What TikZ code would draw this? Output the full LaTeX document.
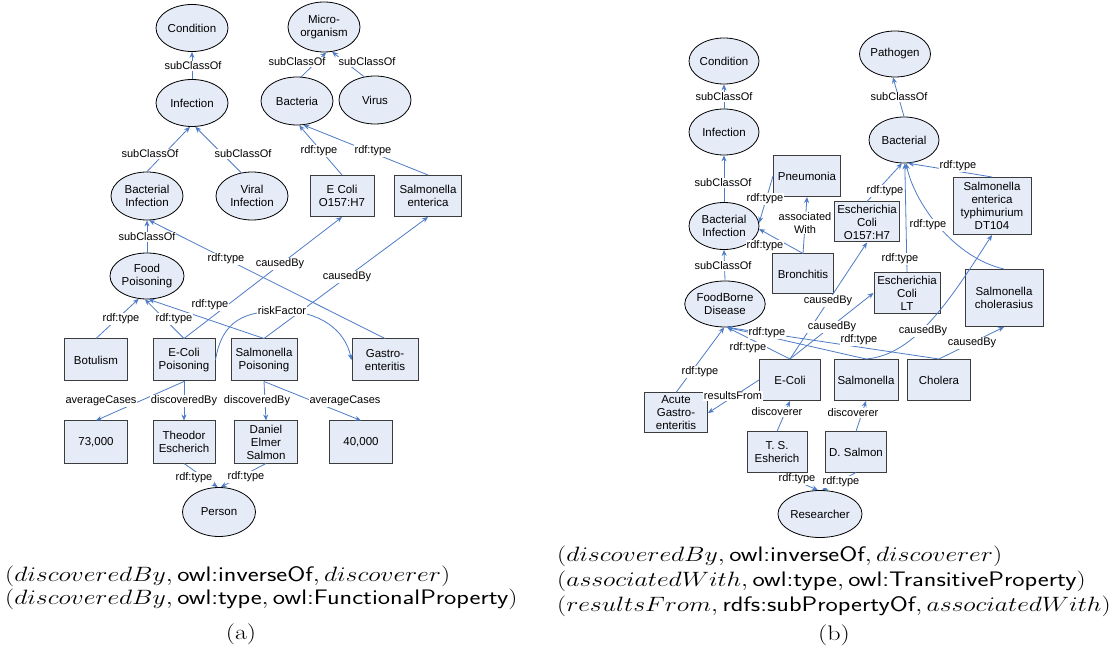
\documentclass[tikz,border=0pt]{standalone}
\usepackage{fontspec}
\usetikzlibrary{shapes.geometric,arrows.meta}
\newfontfamily\diag{Liberation Sans}
\definecolor{nodefill}{RGB}{229,235,247}
\definecolor{boxgray}{RGB}{60,60,60}
\definecolor{edgeblue}{RGB}{78,124,198}
\newcommand{\capfont}{\fontsize{21}{23}\selectfont}
\newcommand{\capline}[1]{\scalebox{1.24}[1]{#1}}
\begin{document}
\begin{tikzpicture}[x=1pt,y=-1pt,
  cls/.style={ellipse, draw=black, line width=0.8pt, fill=nodefill, minimum width=72pt, minimum height=47pt, inner sep=0pt, align=center, font={\diag\fontsize{11.5}{13}\selectfont}},
  inst/.style={rectangle, draw=boxgray, line width=1pt, fill=nodefill, minimum width=63pt, minimum height=41pt, inner sep=1pt, align=center, font={\diag\fontsize{11.5}{13}\selectfont}},
  rel/.style={draw=edgeblue, line width=0.8pt, -{Stealth[length=6pt,width=5pt]}},
  lbl/.style={fill=white, inner sep=0.6pt, align=center, font={\diag\fontsize{11}{13}\selectfont}},
  capt/.style={anchor=base west, inner sep=0pt, font=\capfont}
]
\useasboundingbox[fill=white] (0,0) rectangle (1120,652);

% ---------- (a) nodes
\node[cls] (condA) at (192,28) {Condition};
\node[cls, minimum height=50pt] (micro) at (324,27) {Micro-\\organism};
\node[cls] (infA) at (192,103) {Infection};
\node[cls, minimum height=48pt] (bacteria) at (297,101) {Bacteria};
\node[cls, minimum height=48pt] (virus) at (375,100) {Virus};
\node[cls, minimum height=48pt] (bacInfA) at (147,196) {Bacterial\\Infection};
\node[cls, minimum height=48pt] (viralInf) at (252,196) {Viral\\Infection};
\node[inst, minimum width=64pt] (ecoliO) at (342,196) {E Coli\\O157:H7};
\node[inst, minimum width=67pt] (salEnt) at (428,196) {Salmonella\\enterica};
\node[cls, minimum width=74pt, minimum height=46pt] (foodP) at (147,276) {Food\\Poisoning};
\node[inst, minimum height=42pt] (botulism) at (96,360) {Botulism};
\node[inst, minimum width=62pt, minimum height=42pt] (ecoliP) at (184,360) {E-Coli\\Poisoning};
\node[inst, minimum width=66pt, minimum height=42pt] (salP) at (264,360) {Salmonella\\Poisoning};
\node[inst, minimum width=66pt, minimum height=42pt] (gastro) at (385,360) {Gastro-\\enteritis};
\node[inst, minimum height=42pt] (n73) at (96,442) {73,000};
\node[inst, minimum width=62pt, minimum height=42pt] (theodor) at (184,442) {Theodor\\Escherich};
\node[inst, minimum height=42pt] (daniel) at (266,442) {Daniel\\Elmer\\Salmon};
\node[inst, minimum height=42pt] (n40) at (361,442) {40,000};
\node[cls, minimum width=73pt, minimum height=49pt] (person) at (219,512) {Person};

% ---------- (a) connectors
\draw[rel] (infA.north) -- (condA.south);
\draw[rel] (bacteria.80) -- (micro.-85);
\draw[rel] (virus.115) -- (micro.-72);
\draw[rel] (bacInfA.north) -- (infA.-95);
\draw[rel] (viralInf.115) -- (infA.-82);
\draw[rel] (ecoliO.north) -- (bacteria.-85);
\draw[rel] (salEnt.north) -- (bacteria.-75);
\draw[rel] (foodP.north) -- (bacInfA.south);
\draw[rel] (gastro.north) -- (bacInfA.-85);
\draw[rel] (ecoliP.north) -- (ecoliO.south);
\draw[rel] (salP.north) -- (salEnt.south);
\draw[rel] (botulism.north) -- (foodP.-110);
\draw[rel] (ecoliP.north) -- (foodP.-95);
\draw[rel] (salP.north) -- (foodP.-86);
\draw[rel] (ecoliP.east) .. controls (222,320) and (245,311) .. (282,311) .. controls (320,311) and (345,330) .. (gastro.west);
\draw[rel] (ecoliP.south) -- (n73.north);
\draw[rel] (ecoliP.south) -- (theodor.north);
\draw[rel] (salP.south) -- (daniel.north);
\draw[rel] (salP.south) -- (n40.north);
\draw[rel] (theodor.south) -- (person.93);
\draw[rel] (daniel.south) -- (person.86);

% ---------- (a) labels
\node[lbl] (la1) at (193,66) {subClassOf};
\node[lbl] (la2) at (297,62) {subClassOf};
\node[lbl] (la3) at (367,62) {subClassOf};
\node[lbl] (la4) at (150,154) {subClassOf};
\node[lbl] (la5) at (243,154) {subClassOf};
\node[lbl] (la6) at (319,151) {rdf:type};
\node[lbl] (la7) at (373,151) {rdf:type};
\node[lbl] (la8) at (147,237) {subClassOf};
\node[lbl] (la9) at (226,259) {rdf:type};
\node[lbl] (la10) at (280,264) {causedBy};
\node[lbl] (la11) at (347,277) {causedBy};
\node[lbl] (la12) at (210,305) {rdf:type};
\node[lbl] (la13) at (282,311) {riskFactor};
\node[lbl] (la14) at (121,319) {rdf:type};
\node[lbl] (la15) at (174,319) {rdf:type};
\node[lbl] (la16) at (101,401) {averageCases};
\node[lbl] (la17) at (184,401) {discoveredBy};
\node[lbl] (la18) at (257,401) {discoveredBy};
\node[lbl] (la19) at (345,401) {averageCases};
\node[lbl] (la20) at (194,478) {rdf:type};
\node[lbl] (la21) at (246,477) {rdf:type};

% ---------- (b) nodes
\node[cls, minimum width=70pt, minimum height=46pt] (condB) at (724,61) {Condition};
\node[cls, minimum width=70pt, minimum height=46pt] (infB) at (724,132) {Infection};
\node[cls, minimum width=71pt, minimum height=46pt] (pathogen) at (895,54) {Pathogen};
\node[cls, minimum width=70pt, minimum height=46pt] (bacterial) at (904,140) {Bacterial};
\node[inst, minimum width=67pt] (pneumonia) at (807,176) {Pneumonia};
\node[cls, minimum width=70pt, minimum height=47pt] (bacInfB) at (724,226) {Bacterial\\Infection};
\node[inst, minimum width=65pt, minimum height=40pt] (ecoliO157) at (867,222) {Escherichia\\Coli\\O157:H7};
\node[inst, minimum width=78pt, minimum height=57pt] (salDT) at (992,206) {Salmonella\\enterica\\typhimurium\\DT104};
\node[inst, minimum width=61pt, minimum height=40pt] (bronchitis) at (803,274) {Bronchitis};
\node[cls, minimum width=73pt, minimum height=46pt] (foodBorne) at (725,304) {FoodBorne\\Disease};
\node[inst, minimum width=66pt] (ecoliLT) at (907,293) {Escherichia\\Coli\\LT};
\node[inst, minimum width=78pt, minimum height=57pt] (salChol) at (1004,298) {Salmonella\\cholerasius};
\node[inst, minimum width=61pt] (ecoli) at (790,380) {E-Coli};
\node[inst, minimum width=64pt] (salmonella) at (866,380) {Salmonella};
\node[inst, minimum width=63pt] (cholera) at (939,380) {Cholera};
\node[inst, minimum width=63pt, minimum height=40pt] (acute) at (676,413) {Acute\\Gastro-\\enteritis};
\node[inst, minimum width=60pt, minimum height=40pt] (esherich) at (777,452) {T. S.\\Esherich};
\node[inst, minimum width=61pt, minimum height=40pt] (dsalmon) at (856,452) {D. Salmon};
\node[cls, minimum width=79pt, minimum height=47pt] (researcher) at (820,514) {Researcher};

% ---------- (b) connectors
\draw[rel] (infB.north) -- (condB.south);
\draw[rel] (bacInfB.north) -- (infB.south);
\draw[rel] (foodBorne.north) -- (bacInfB.south);
\draw[rel] (bacterial.north) -- (pathogen.-95);
\draw[rel] (pneumonia.west) -- (bacInfB.5);
\draw[rel] (bronchitis.north) -- (bacInfB.-5);
\draw[rel] (bronchitis.north) -- (pneumonia.south);
\draw[rel] (ecoliO157.north) -- (bacterial.-95);
\draw[rel] (ecoliLT.north) -- (bacterial.-88);
\draw[rel] (salDT.north) -- (bacterial.-80);
\draw[rel] (salChol.north) .. controls (955,258) and (915,205) .. (bacterial.-85);
\draw[rel] (ecoli.north) -- (ecoliO157.south);
\draw[rel] (ecoli.north) -- (ecoliLT.west);
\draw[rel] (salmonella.north) .. controls (915,355) and (950,300) .. (salDT.south);
\draw[rel] (cholera.north) -- (salChol.south);
\draw[rel] (ecoli.north) -- (foodBorne.-85);
\draw[rel] (salmonella.north) -- (foodBorne.-85);
\draw[rel] (cholera.north) -- (foodBorne.-85);
\draw[rel] (acute.north) -- (foodBorne.-92);
\draw[rel] (ecoli.west) -- (acute.east);
\draw[rel] (esherich.north) -- (ecoli.south);
\draw[rel] (dsalmon.north) -- (salmonella.south);
\draw[rel] (esherich.south) -- (researcher.95);
\draw[rel] (dsalmon.south) -- (researcher.85);

% ---------- (b) labels
\node[lbl] (lb1) at (724,97) {subClassOf};
\node[lbl] (lb2) at (899,97) {subClassOf};
\node[lbl] (lb3) at (723,183) {subClassOf};
\node[lbl] (lb4) at (723,266) {subClassOf};
\node[lbl] (lb5) at (958,166) {rdf:type};
\node[lbl] (lb6) at (765,199) {rdf:type};
\node[lbl] (lb7) at (885,191) {rdf:type};
\node[lbl] (lb8) at (805,223) {associated\\With};
\node[lbl] (lb9) at (928,225) {rdf:type};
\node[lbl] (lb10) at (765,246) {rdf:type};
\node[lbl] (lb11) at (900,259) {rdf:type};
\node[lbl] (lb12) at (828,301) {causedBy};
\node[lbl] (lb13) at (832,327) {causedBy};
\node[lbl] (lb14) at (923,331) {causedBy};
\node[lbl] (lb15) at (767,333) {rdf:type};
\node[lbl] (lb16) at (748,348) {rdf:type};
\node[lbl] (lb17) at (859,340) {rdf:type};
\node[lbl] (lb18) at (972,343) {causedBy};
\node[lbl] (lb19) at (700,372) {rdf:type};
\node[lbl] (lb20) at (733,396) {resultsFrom};
\node[lbl] (lb21) at (777,412) {discoverer};
\node[lbl] (lb22) at (853,413) {discoverer};
\node[lbl] (lb23) at (797,479) {rdf:type};
\node[lbl] (lb24) at (841,482) {rdf:type};

% ---------- captions
\node[capt] (ca1) at (5,581) {\capline{$(discoveredBy, \textsf{owl:inverseOf}, discoverer)$}};
\node[capt] (ca2) at (5,604) {\capline{$(discoveredBy, \textsf{owl:type}, \textsf{owl:FunctionalProperty})$}};
\node[capt, anchor=base] (ca3) at (241,639) {\capline{(a)}};
\node[capt] (cb1) at (557,561) {\capline{$(discoveredBy, \textsf{owl:inverseOf}, discoverer)$}};
\node[capt] (cb2) at (557,586) {\capline{$(associatedWith, \textsf{owl:type}, \textsf{owl:TransitiveProperty})$}};
\node[capt] (cb3) at (557,611) {\capline{$(resultsFrom, \textsf{rdfs:subPropertyOf}, associatedWith)$}};
\node[capt, anchor=base] (cb4) at (834,640) {\capline{(b)}};
\end{tikzpicture}
\end{document}
